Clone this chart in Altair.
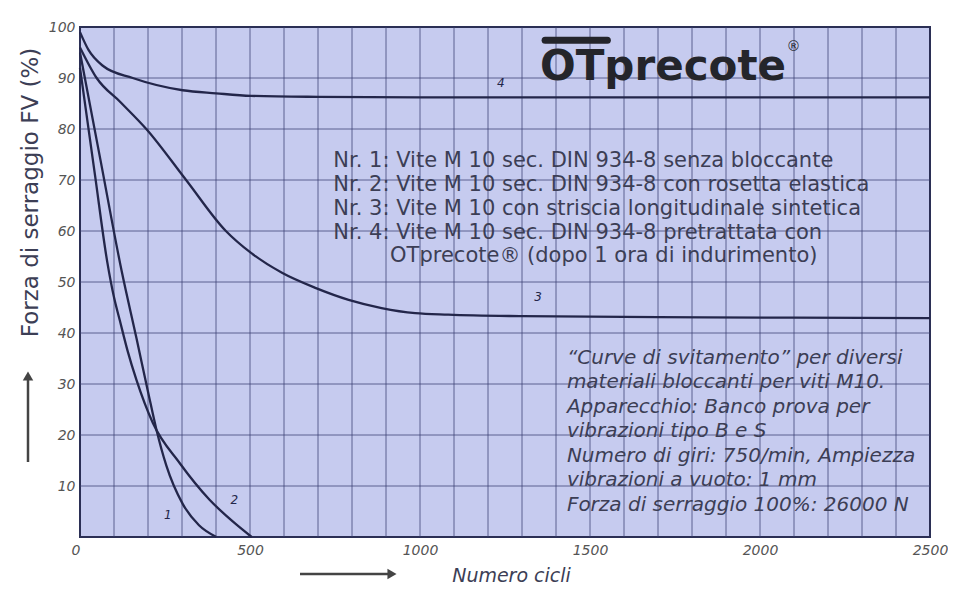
import altair as alt
import pandas as pd

# ---- curve data (cycles -> clamping force %) ----
cycles_1 = [0, 60, 123, 166, 200, 225, 254, 302, 350, 401]
force_1 = [95, 74, 52, 39, 28.5, 21, 14, 6.5, 2.3, 0]

cycles_2 = [0, 44, 80, 100, 117, 140, 166, 214, 293, 381, 450, 505]
force_2 = [92, 71, 54, 47, 42.5, 36.5, 30.8, 22.4, 14.5, 7.3, 3, 0]

cycles_3 = [0, 49, 120, 195, 312, 429, 503, 594, 694, 790, 887, 986, 1083, 1300, 1700, 2100, 2500]
force_3 = [96, 90, 85.2, 80, 70, 60, 55.7, 51.8, 48.8, 46.5, 44.9, 43.9, 43.6, 43.3, 43.1, 43.0, 42.9]

cycles_4 = [0, 25, 67, 155, 302, 400, 503, 700, 1000, 1500, 2000, 2500]
force_4 = [99, 95.5, 92.4, 90, 87.6, 87.0, 86.5, 86.3, 86.2, 86.2, 86.2, 86.2]

curve_names = ["1", "2", "3", "4"]
label_cycles = [258, 454, 1347, 1238]
label_force = [4.3, 7.3, 47, 89]

x_labels = [0, 500, 1000, 1500, 2000, 2500]
y_labels = [10, 20, 30, 40, 50, 60, 70, 80, 90, 100]
x_grid = list(range(100, 2500, 100))
y_grid = list(range(10, 100, 10))

notes_1 = [
    "Nr. 1: Vite M 10 sec. DIN 934-8 senza bloccante",
    "Nr. 2: Vite M 10 sec. DIN 934-8 con rosetta elastica",
    "Nr. 3: Vite M 10 con striscia longitudinale sintetica",
    "Nr. 4: Vite M 10 sec. DIN 934-8 pretrattata con",
]
notes_1b = "OTprecote® (dopo 1 ora di indurimento)"
notes_2 = [
    "\u201cCurve di svitamento\u201d per diversi",
    "materiali bloccanti per viti M10.",
    "Apparecchio: Banco prova per",
    "vibrazioni tipo B e S",
    "Numero di giri: 750/min, Ampiezza",
    "vibrazioni a vuoto: 1 mm",
    "Forza di serraggio 100%: 26000 N",
]

rows = []
for name, xs, ys in zip(curve_names, [cycles_1, cycles_2, cycles_3, cycles_4],
                        [force_1, force_2, force_3, force_4]):
    for i, (a, b) in enumerate(zip(xs, ys)):
        rows.append({"curve": name, "cycles": a, "force": b, "order": i})
df = pd.DataFrame(rows)
labels_df = pd.DataFrame({"curve": curve_names, "cycles": label_cycles, "force": label_force})
xg_df = pd.DataFrame({"cycles": x_grid})
yg_df = pd.DataFrame({"force": y_grid})

INK = "#23264a"
TXT = "#3c3e55"
GRID = "#3a3f72"
FONT = "DejaVu Sans"

x_scale = alt.Scale(domain=[0, 2500], nice=False, zero=False)
y_scale = alt.Scale(domain=[0, 100], nice=False, zero=False)

x_axis = alt.Axis(
    values=x_labels, format="d",
    labelAlign={"expr": "datum.value == 0 ? 'right' : 'center'"},
    labelFont=FONT, labelFontSize=14, labelFontStyle="italic", labelColor="#555",
    labelPadding=6, ticks=False, domain=False, labelOverlap=False, labelFlush=False,
    title="Numero cicli", titleFont=FONT, titleFontSize=19, titleFontStyle="italic",
    titleFontWeight="normal", titleColor=TXT, titleX=431, titleY=44,
    titleAlign="center", titleBaseline="alphabetic",
    grid=False,
)
y_axis = alt.Axis(
    values=y_labels,
    labelFont=FONT, labelFontSize=14, labelFontStyle="italic", labelColor="#555",
    labelPadding=5, ticks=False, domain=False, labelOverlap=False, labelFlush=False,
    title="Forza di serraggio FV (%)", titleFont=FONT, titleFontSize=23,
    titleFontWeight="normal", titleColor=TXT, titleX=-50, titleY=165,
    titleAngle=270, titleAlign="center", titleBaseline="middle",
    grid=False,
)

vgrid = alt.Chart(xg_df).mark_rule(color=GRID, strokeWidth=1, opacity=0.75).encode(
    x=alt.X("cycles:Q", scale=x_scale, axis=x_axis)
)
hgrid = alt.Chart(yg_df).mark_rule(color=GRID, strokeWidth=1, opacity=0.75).encode(
    y=alt.Y("force:Q", scale=y_scale, axis=y_axis)
)

lines = alt.Chart(df).mark_line(color=INK, strokeWidth=2.3, interpolate="monotone").encode(
    x=alt.X("cycles:Q", scale=x_scale, axis=x_axis),
    y=alt.Y("force:Q", scale=y_scale, axis=y_axis),
    detail="curve:N",
    order="order:Q",
)

curve_labels = alt.Chart(labels_df).mark_text(
    font=FONT, fontSize=12, fontStyle="italic", color=INK
).encode(x="cycles:Q", y="force:Q", text="curve:N")

one = pd.DataFrame({"k": [0]})
notes1 = alt.Chart(one).mark_text(
    text=notes_1, font=FONT, fontSize=21, color=TXT, align="left",
    baseline="alphabetic", lineHeight=24
).encode(x=alt.datum(745), y=alt.datum(72.6))
notes1b = alt.Chart(one).mark_text(
    text=notes_1b, font=FONT, fontSize=21, color=TXT, align="left",
    baseline="alphabetic"
).encode(x=alt.datum(912), y=alt.datum(53.9))
notes2 = alt.Chart(one).mark_text(
    text=notes_2, font=FONT, fontSize=20, fontStyle="italic", color=TXT,
    align="left", baseline="alphabetic", lineHeight=24.5
).encode(x=alt.datum(1432), y=alt.datum(34.0))

logo = alt.Chart(one).mark_text(
    text="OTprecote", font=FONT, fontSize=42, fontWeight="bold", color="#24252b",
    align="left", baseline="alphabetic"
).encode(x=alt.datum(1353), y=alt.datum(89.6))
logo_bar = alt.Chart(one).mark_rule(color="#24252b", strokeWidth=7, strokeCap="round").encode(
    x=alt.datum(1368), x2=alt.datum(1551), y=alt.datum(97.4)
)
logo_r = alt.Chart(one).mark_text(
    text="®", font=FONT, fontSize=14, color="#24252b", align="left", baseline="middle"
).encode(x=alt.datum(2078), y=alt.datum(96.0))

arrow_y = alt.Chart(one).mark_rule(color="#444", strokeWidth=2.5).encode(
    x=alt.value(-52), y=alt.value(435), y2=alt.value(352)
)
arrow_y_head = alt.Chart(one).mark_point(shape="triangle-up", filled=True, color="#444",
                                         size=110, opacity=1).encode(
    x=alt.value(-52), y=alt.value(349)
)
arrow_x = alt.Chart(one).mark_rule(color="#444", strokeWidth=2.5).encode(
    x=alt.value(220), x2=alt.value(308), y=alt.value(547)
)
arrow_x_head = alt.Chart(one).mark_point(shape="triangle-right", filled=True, color="#444",
                                         size=110, opacity=1).encode(
    x=alt.value(312), y=alt.value(547)
)

chart = alt.layer(
    vgrid, hgrid, lines, curve_labels, notes1, notes1b, notes2, logo, logo_bar, logo_r,
    arrow_y, arrow_y_head, arrow_x, arrow_x_head
).properties(
    width=850, height=510,
    autosize=alt.AutoSizeParams(type="none"),
    padding={"left": 72, "top": 19, "right": 18, "bottom": 49},
    background="white",
).configure_view(
    fill="#c6cbef", stroke="#2b2f55", strokeWidth=2
)

chart.save("out.html", embed_options={"renderer": "svg", "actions": False})
